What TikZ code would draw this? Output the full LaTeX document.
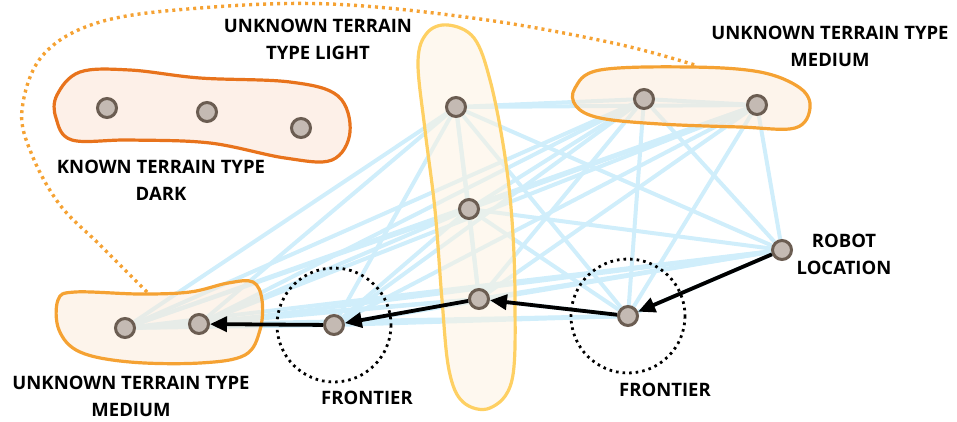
\documentclass[tikz,border=0pt]{standalone}
\usepackage{fontspec}
\setmainfont{Open Sans}
\usetikzlibrary{arrows.meta}
\pgfdeclarelayer{edgelayer}
\pgfdeclarelayer{bloblayer}
\pgfsetlayers{edgelayer,bloblayer,main}
\definecolor{nodefill}{HTML}{C4BAB3}
\definecolor{nodeline}{HTML}{6B5D52}
\definecolor{edgeblue}{HTML}{D0EEFB}
\definecolor{darkor}{HTML}{E8731C}
\definecolor{medor}{HTML}{F5A233}
\definecolor{lightyel}{HTML}{FED063}
\definecolor{darkfill}{HTML}{FBE3D5}
\definecolor{medfill}{HTML}{FBEBDA}
\definecolor{lightfill}{HTML}{FDF3E1}
\tikzset{
  vtx/.style={circle,draw=nodeline,fill=nodefill,line width=3pt,minimum size=19pt,inner sep=0pt},
  edge/.style={draw=edgeblue,line width=4pt},
  walk/.style={draw=black,line width=3.8pt,-{Triangle[length=17pt,width=15pt]}},
  blob/.style={line width=3.2pt,fill opacity=0.55},
  frontier/.style={draw=black,line width=2.8pt,dash pattern=on 2.6pt off 4pt},
  lbl/.style={font=\fontsize{18.5}{27}\selectfont\bfseries,align=center,text=black,inner sep=0pt}
}
\begin{document}
\begin{tikzpicture}[x=1pt,y=-1pt]
\useasboundingbox (0,0) rectangle (957,421);
% vertices
\node[vtx] (d1) at (107,108) {};
\node[vtx] (d2) at (207,112) {};
\node[vtx] (d3) at (301,128) {};
\node[vtx] (l1) at (456,107) {};
\node[vtx] (l2) at (469,209) {};
\node[vtx] (l3) at (479,299) {};
\node[vtx] (m1) at (644,99) {};
\node[vtx] (m2) at (757,105) {};
\node[vtx] (r) at (782,250) {};
\node[vtx] (f2) at (628,316) {};
\node[vtx] (f1) at (334,325) {};
\node[vtx] (b1) at (125,328) {};
\node[vtx] (b2) at (199,324) {};
% complete graph edges
\begin{pgfonlayer}{edgelayer}
\foreach \i [count=\n] in {l1,l2,l3,m1,m2,r,f2,f1,b1,b2}{
  \foreach \j [count=\k] in {l1,l2,l3,m1,m2,r,f2,f1,b1,b2}{
    \ifnum\k>\n \draw[edge] (\i) -- (\j); \fi
  }
}
\end{pgfonlayer}
% blobs
\begin{pgfonlayer}{bloblayer}
\draw[blob,draw=darkor,fill=darkfill] plot[smooth cycle,tension=0.6] coordinates
 {(57,95) (80,72) (130,70) (200,78) (290,82) (338,96) (350,132) (332,160) (285,158) (210,143) (130,140) (72,140) (56,118)};
\draw[blob,draw=lightyel,fill=lightfill] plot[smooth cycle,tension=0.6] coordinates
 {(448,25) (474,38) (490,80) (504,150) (512,220) (515,300) (512,380) (490,408) (463,402) (449,370) (442,300) (435,210) (425,130) (418,62) (427,33)};
\draw[blob,draw=medor,fill=medfill] plot[smooth cycle,tension=0.6] coordinates
 {(575,88) (600,70) (690,67) (760,72) (800,88) (810,108) (795,128) (740,127) (660,124) (600,118) (576,106)};
\draw[blob,draw=medor,fill=medfill] plot[smooth cycle,tension=0.6] coordinates
 {(58,300) (75,292) (140,294) (190,292) (228,283) (253,282) (262,300) (260,330) (245,355) (200,363) (130,362) (80,352) (59,330)};
\end{pgfonlayer}
% dotted link between medium groups
\draw[draw=medor,line width=3.4pt,dash pattern=on 3pt off 4pt] plot[smooth,tension=0.6] coordinates
 {(147,292) (100,245) (60,205) (32,155) (22,110) (43,55) (100,22) (200,8) (330,4) (480,19) (613,43) (695,65)};
% frontier circles
\draw[frontier] (f1) circle[radius=57];
\draw[frontier] (f2) circle[radius=57];
% walk
\draw[walk] (r) -- (f2);
\draw[walk] (f2) -- (l3);
\draw[walk] (l3) -- (f1);
\draw[walk] (f1) -- (b2);
% labels
\node[lbl] (t1) at (318,39) {UNKNOWN TERRAIN\\TYPE LIGHT};
\node[lbl] (t2) at (830,46) {UNKNOWN TERRAIN TYPE\\MEDIUM};
\node[lbl] (t3) at (161,180) {KNOWN TERRAIN TYPE\\DARK};
\node[lbl] (t4) at (131,396) {UNKNOWN TERRAIN TYPE\\MEDIUM};
\node[lbl] (t5) at (367,398) {FRONTIER};
\node[lbl] (t6) at (665,390) {FRONTIER};
\node[lbl] (t7) at (844,254) {ROBOT\\LOCATION};
\end{tikzpicture}
\end{document}
